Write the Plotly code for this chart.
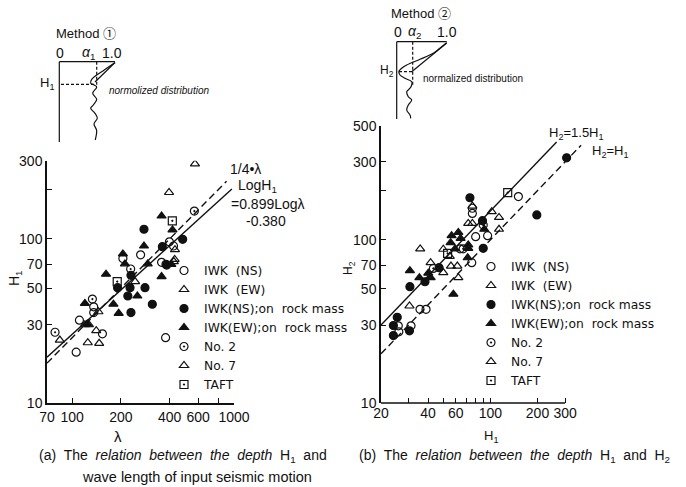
import math
import plotly.graph_objects as go

W, H = 686, 487

# ---------------- data: (a) lambda vs H1 ----------------
a_iwk_ns_lam = [106, 111, 136, 136, 154, 206, 265, 378, 357, 380, 399, 423]
a_iwk_ns_h = [20.4, 32, 38.6, 35.6, 26.4, 76, 80, 25, 72, 70, 96, 90.6]
a_iwk_ew_lam = [574, 397, 245, 425, 432, 430]
a_iwk_ew_h = [287, 192, 55, 72.8, 86, 75]
a_rock_ns_lam = [278, 482, 361, 228, 221, 282, 313, 231, 191, 384, 231]
a_rock_ns_h = [114.6, 99.5, 89.8, 50.5, 44.9, 50.5, 40, 35.6, 50.5, 69.3, 60]
a_rock_ew_lam = [357, 417, 278, 206, 212, 162, 120, 124, 180, 194, 253, 357, 293, 410]
a_rock_ew_h = [138, 113.5, 90.6, 81, 70.5, 61, 40.5, 30.3, 40, 35.2, 44.9, 59, 70.5, 70]
a_no2_lam = [78.5, 133.5, 230, 569]
a_no2_h = [27, 43, 65.6, 148]
a_no7_lam = [84, 125, 147, 141, 120, 127, 145.5]
a_no7_h = [24.2, 23.3, 23.1, 27.6, 30, 30, 36]
a_taft_lam = [416, 190]
a_taft_h = [129, 55]
a_fit_lam = [70, 970]        # LogH1 = 0.899 Log(lambda) - 0.380
a_quarter_lam = [70, 900]    # H1 = lambda / 4

# ---------------- data: (b) H1 vs H2 ----------------
b_iwk_ns_h1 = [151, 76.7, 76.7, 80.5, 96, 76, 35.5, 38.8, 31.1, 25.8, 26, 64]
b_iwk_ns_h2 = [184, 145, 156, 104.5, 106, 72.4, 37.5, 37.5, 29.7, 29.7, 27.3, 88]
b_iwk_ew_h1 = [72.2, 76.7, 76.7, 102, 113.5, 113.5, 55, 62.4]
b_iwk_ew_h2 = [126, 126, 161, 148.6, 137, 116, 79, 58.6]
b_rock_ns_h1 = [74, 307, 198, 89, 90, 47, 30.6, 25.4, 24, 24, 30.4, 38.2]
b_rock_ns_h2 = [181, 318, 142, 131, 88.7, 67.5, 51.6, 33.5, 29.8, 25.9, 27.7, 55.3]
b_rock_ew_h1 = [30.6, 35.2, 40.1, 41.5, 56.5, 62.4, 55.7, 59.4, 72.2, 72.2, 71.6, 58, 64.5, 91.4]
b_rock_ew_h2 = [64.7, 58.6, 62.4, 58.6, 106, 111, 96, 87.9, 93, 88.7, 77.6, 46.4, 102, 116]
b_no2_h1 = [43.2, 90, 67]
b_no2_h2 = [66.8, 123, 88]
b_no7_h1 = [35.6, 41.5, 50, 56, 61.5, 50, 30.4]
b_no7_h2 = [87.9, 72.4, 63, 69, 69, 87.5, 39.3]
b_taft_h1 = [129, 53.3]
b_taft_h2 = [194.5, 82.6]
b_line15_h1 = [20, 265]      # H2 = 1.5 H1
b_line1_h1 = [20, 380]       # H2 = H1

NB = "\u00a0"
series_names = ["IWK" + NB * 2 + "(NS)", "IWK" + NB * 2 + "(EW)", "IWK(NS);on" + NB * 2 + "rock mass",
                "IWK(EW);on" + NB * 2 + "rock mass", "No. 2", "No. 7", "TAFT"]
series_symbols = ["circle-open", "triangle-up-open", "circle", "triangle-up",
                  "circle-open-dot", "triangle-up-open", "square-open-dot"]

FONT = "Liberation Sans, Arial, Noto Sans CJK JP, sans-serif"
LFONT = "DejaVu Sans, Liberation Sans, sans-serif"
INK = "#111111"


def px(x):
    return x / W


def py(y):
    return 1 - y / H


fig = go.Figure()

a_sets = [(a_iwk_ns_lam, a_iwk_ns_h), (a_iwk_ew_lam, a_iwk_ew_h), (a_rock_ns_lam, a_rock_ns_h),
          (a_rock_ew_lam, a_rock_ew_h), (a_no2_lam, a_no2_h), (a_no7_lam, a_no7_h),
          (a_taft_lam, a_taft_h)]
b_sets = [(b_iwk_ns_h1, b_iwk_ns_h2), (b_iwk_ew_h1, b_iwk_ew_h2), (b_rock_ns_h1, b_rock_ns_h2),
          (b_rock_ew_h1, b_rock_ew_h2), (b_no2_h1, b_no2_h2), (b_no7_h1, b_no7_h2),
          (b_taft_h1, b_taft_h2)]

# regression / reference lines
fig.add_trace(go.Scatter(x=a_fit_lam, y=[10 ** (0.899 * math.log10(v) - 0.380) for v in a_fit_lam],
                         mode="lines", line=dict(color=INK, width=1.4), showlegend=False,
                         xaxis="x", yaxis="y"))
fig.add_trace(go.Scatter(x=a_quarter_lam, y=[v / 4 for v in a_quarter_lam],
                         mode="lines", line=dict(color=INK, width=1.4, dash="7px,4px"),
                         showlegend=False, xaxis="x", yaxis="y"))
fig.add_trace(go.Scatter(x=b_line15_h1, y=[1.5 * v for v in b_line15_h1],
                         mode="lines", line=dict(color=INK, width=1.4), showlegend=False,
                         xaxis="x2", yaxis="y2"))
fig.add_trace(go.Scatter(x=b_line1_h1, y=list(b_line1_h1),
                         mode="lines", line=dict(color=INK, width=1.4, dash="7px,4px"),
                         showlegend=False, xaxis="x2", yaxis="y2"))

for (xs, ys), name, sym in zip(a_sets, series_names, series_symbols):
    fig.add_trace(go.Scatter(x=xs, y=ys, mode="markers", name=name, legend="legend",
                             marker=dict(symbol=sym, size=8, color=INK,
                                         line=dict(color=INK, width=1.2)),
                             xaxis="x", yaxis="y"))
for (xs, ys), name, sym in zip(b_sets, series_names, series_symbols):
    fig.add_trace(go.Scatter(x=xs, y=ys, mode="markers", name=name, legend="legend2",
                             marker=dict(symbol=sym, size=8, color=INK,
                                         line=dict(color=INK, width=1.2)),
                             xaxis="x2", yaxis="y2"))

tickfont = dict(family=FONT, size=14, color=INK)
axis_common = dict(type="log", showgrid=False, zeroline=False, ticks="inside", ticklen=5,
                   tickcolor=INK, tickwidth=1.2, linecolor=INK, linewidth=1.5,
                   tickfont=tickfont, tickmode="array", tickangle=0, automargin=False)

b_xmin = math.log10(20)
b_xmax = b_xmin + (588 - 381) / 156.5

fig.update_layout(
    width=W, height=H, margin=dict(l=0, r=0, t=0, b=0, pad=0, autoexpand=False),
    paper_bgcolor="white", plot_bgcolor="white",
    xaxis=dict(axis_common, domain=[px(47), px(234)], range=[math.log10(70), 3],
               showline=True, anchor="y",
               tickvals=[70, 100, 200, 400, 600, 800, 1000],
               ticktext=["70", "100", "200", "400", "600", "", "1000"]),
    yaxis=dict(axis_common, domain=[py(403), py(160.7)], range=[1, math.log10(300)],
               showline=True, anchor="x",
               tickvals=[10, 30, 50, 70, 100, 200, 300],
               ticktext=["10", "30", "50", "70", "100", "", "300"]),
    xaxis2=dict(axis_common, domain=[px(381), px(588)], range=[b_xmin, b_xmax],
                showline=False, anchor="y2",
                tickvals=[20, 30, 40, 50, 60, 70, 80, 90, 100, 200, 300],
                ticktext=["20", "", "40", "", "60", "", "", "", "100", "200", "300"]),
    yaxis2=dict(axis_common, domain=[py(403), py(125.7)], range=[1, math.log10(500)],
                showline=True, anchor="x2",
                tickvals=[10, 30, 50, 70, 100, 200, 300, 500],
                ticktext=["10", "30", "50", "70", "100", "", "300", "500"]),
    legend=dict(x=px(164), y=py(256), xanchor="left", yanchor="top",
                font=dict(family=LFONT, size=12.3, color=INK), bgcolor="rgba(0,0,0,0)",
                tracegroupgap=0, itemwidth=30),
    legend2=dict(x=px(471), y=py(252), xanchor="left", yanchor="top",
                 font=dict(family=LFONT, size=12.3, color=INK), bgcolor="rgba(0,0,0,0)",
                 tracegroupgap=0, itemwidth=30),
)

# x-axis line of (b) only up to 300
frac300 = (math.log10(300) - b_xmin) / (b_xmax - b_xmin)
shapes = [dict(type="line", xref="x2 domain", yref="y2 domain", x0=0, x1=frac300, y0=0, y1=0,
               line=dict(color=INK, width=1.5))]


def seg(p0, p1, dash=None, width=1.2):
    return dict(type="line", xref="paper", yref="paper",
                x0=px(p0[0]), y0=py(p0[1]), x1=px(p1[0]), y1=py(p1[1]),
                line=dict(color=INK, width=width, dash=dash) if dash else dict(color=INK, width=width))


def smooth_path(pts):
    P = [(px(x), py(y)) for x, y in pts]
    d = "M %.5f,%.5f" % P[0]
    for i in range(len(P) - 1):
        p0 = P[i - 1] if i > 0 else P[i]
        p1, p2 = P[i], P[i + 1]
        p3 = P[i + 2] if i + 2 < len(P) else P[i + 1]
        c1 = (p1[0] + (p2[0] - p0[0]) / 6, p1[1] + (p2[1] - p0[1]) / 6)
        c2 = (p2[0] - (p3[0] - p1[0]) / 6, p2[1] - (p3[1] - p1[1]) / 6)
        d += " C %.5f,%.5f %.5f,%.5f %.5f,%.5f" % (c1 + c2 + p2)
    return dict(type="path", xref="paper", yref="paper", path=d,
                line=dict(color=INK, width=1.2))


# inset for method 1
shapes += [
    seg((59.3, 61.7), (59.3, 142)),
    seg((59.3, 61.7), (115, 61.7)),
    seg((96.7, 61.7), (96.7, 85), dash="3px,2px"),
    seg((61, 84.3), (95, 84.3), dash="3px,2px"),
    seg((115, 62.5), (95, 82)),
    smooth_path([(115, 62.7), (110, 66), (103.3, 70.7), (96.7, 75), (91.7, 79.3), (90.7, 83.3),
                 (94, 85), (96.7, 87.3), (92.7, 93.3), (96.7, 99.3), (93.3, 105), (90.7, 108.3),
                 (95, 113.3), (97.3, 118.3), (94, 124), (96.7, 130.7), (95.3, 140)]),
]
# inset for method 2
shapes += [
    seg((396.7, 41.7), (396.7, 119)),
    seg((396.7, 41.7), (446.7, 41.7)),
    seg((412.7, 41.7), (412.7, 86), dash="3px,2px"),
    seg((399, 71.7), (412.7, 71.7), dash="3px,2px"),
    seg((446.7, 43), (411.7, 71.7)),
    smooth_path([(446.7, 42.7), (441.7, 46.7), (433.3, 53.3), (420, 59.3), (406.7, 65),
                 (399.3, 70.7), (400, 75), (405, 78.3), (411.7, 81.7), (410.7, 87.3),
                 (406.7, 91.7), (408.3, 96.7), (411.7, 100), (408.3, 105), (406.7, 110),
                 (410, 115), (410.7, 118.3)]),
]
fig.update_layout(shapes=shapes)


def note(x, y, text, size=14, anchor="center", angle=0, italic=False):
    return dict(xref="paper", yref="paper", x=px(x), y=py(y), text=text, showarrow=False,
                xanchor=anchor, yanchor="middle", textangle=angle,
                font=dict(family=FONT, size=size, color=INK,
                          style="italic" if italic else "normal"))


S2 = NB + " "
annotations = [
    # axis titles
    note(15, 278, "H<sub>1</sub>", size=14, angle=-90),
    note(118, 436, "λ", size=15),
    note(349, 268, "H<sub>2</sub>", size=12, angle=-90),
    note(491, 436, "H<sub>1</sub>", size=13),
    # line labels (a)
    note(228, 169, "1/4•λ", size=14, anchor="left"),
    note(236, 186, "LogH<sub>1</sub>", size=14, anchor="left"),
    note(229, 204, "=0.899Logλ", size=14, anchor="left"),
    note(244, 221, "-0.380", size=14, anchor="left"),
    # line labels (b)
    note(547, 133, "H<sub>2</sub>=1.5H<sub>1</sub>", size=13, anchor="left"),
    note(590, 151, "H<sub>2</sub>=H<sub>1</sub>", size=13, anchor="left"),
    # inset 1
    note(86, 33, "Method ①", size=13),
    note(60, 53, "0", size=14),
    note(88, 53, "<i>α</i><sub>1</sub>", size=14),
    note(112, 53, "1.0", size=14),
    note(56, 83, "H<sub>1</sub>", size=13, anchor="right"),
    note(107, 91, "normolized distribution", size=10, anchor="left", italic=True),
    # inset 2
    note(421, 13, "Method ②", size=13),
    note(398, 32, "0", size=14),
    note(414, 32, "<i>α</i><sub>2</sub>", size=14),
    note(447, 32, "1.0", size=14),
    note(396, 71, "H<sub>2</sub>", size=12, anchor="right"),
    note(421, 78, "normalized distribution", size=10, anchor="left"),
    # captions
    note(37, 456, "(a)" + S2 + "The" + S2 + "<i>relation" + S2 + "between" + S2 + "the" + S2 + "depth</i>"
         + S2 + "H<sub>1</sub>" + S2 + "and", size=14, anchor="left"),
    note(80, 477, "wave length of input seismic motion", size=14.5, anchor="left"),
    note(357, 456, "(b)" + S2 + "The" + S2 + "<i>relation" + S2 + "between" + S2 + "the" + S2 + "depth</i>"
         + S2 + "H<sub>1</sub>" + S2 + "and" + S2 + "H<sub>2</sub>", size=14, anchor="left"),
]
fig.update_layout(annotations=annotations)

fig.write_html("out.html", config={"displayModeBar": False},
               post_script="document.body.style.margin='0px';document.body.style.overflow='hidden';")
